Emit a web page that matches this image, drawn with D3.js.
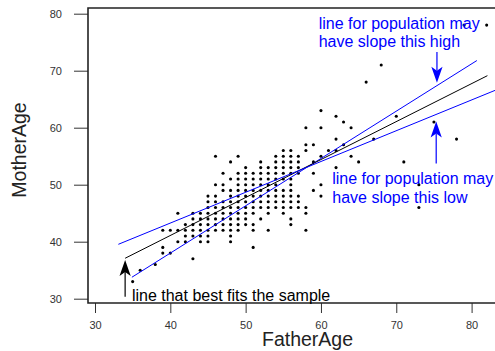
<!DOCTYPE html>
<html><head><meta charset="utf-8">
<script src="https://cdn.jsdelivr.net/npm/d3@7"></script>
<style>body{margin:0;background:#fff}svg{display:block;font-family:"Liberation Sans",Arial,sans-serif}</style>
</head><body><svg id="c" width="495" height="351"></svg>
<script>
// ---- data ----
const xTicks = [30, 40, 50, 60, 70, 80];
const yTicks = [30, 40, 50, 60, 70, 80];
const xTitle = "FatherAge";
const yTitle = "MotherAge";

// scatter rows: for each mother age, the father ages observed
const rowMother = [33,35,36,37,38,39,40,41,42,43,44,45,46,47,48,49,50,51,52,53,54,55,56,57,58,60,61,62,63,68,71,78];
const rowFathers = [
  [35],[36],[38],[43],[39,40],[39,51],
  [41,42,44,45,48],
  [42,43,44,45,48],
  [39,40,41,42,43,44,45,46,47,48,49,51,53,58],
  [42,43,44,45,46,47,48,49,50,51,56],
  [43,44,45,46,47,48,49,50,52,56],
  [41,43,44,45,46,47,48,49,50,51,53,55,58],
  [45,46,47,48,49,50,51,52,53,54,55,56,57,58,73],
  [45,46,47,48,49,50,51,52,53,54,55,56,57],
  [45,46,48,49,50,51,52,53,54,55,56,57,60],
  [47,48,49,50,51,52,53,54,55,56,59],
  [46,47,49,50,51,52,53,54,56,60,73],
  [48,49,50,51,52,53,54,55,56],
  [47,49,50,51,52,53,54,55,56,57,59],
  [50,52,53,54,55,56,57,62],
  [48,52,54,55,56,57,59,65,71],
  [46,49,54,55,56,57,60,64],
  [55,56,58,61,62],
  [58,59,63],
  [62,67,78],
  [58,60,64],
  [63,75],
  [62,70],
  [60],
  [66],
  [68],
  [79,82]
];
const fatherAge = [], motherAge = [];
rowMother.forEach((m, i) => rowFathers[i].forEach(f => { fatherAge.push(f); motherAge.push(m); }));

// fitted lines
const lineKeys = ["high", "best", "low"];
const lineIntercept = [4.80, 14.45, 21.67];
const lineSlope = [0.830, 0.666, 0.540];
const lineFrom = [34.9, 34.0, 33.1];
const lineTo = [80.7, 82.1, 85.0];

// annotations (data coordinates)
const noteLines = [
  ["line for population may", "have slope this high"],
  ["line for population may", "have slope this low"],
  ["line that best fits the sample"]
];
const noteX = [59.7, 61.5, 34.9];
const noteY = [[77.4, 74.15], [50.2, 46.85], [29.65]];
const arrowX = [75.4, 75.3, 34.0];
const arrowFrom = [73.3, 53.7, 30.35];
const arrowTip = [67.9, 61.1, 36.8];

// ---- styles ----
const colorOf = {high: "#0000ff", best: "#000000", low: "#0000ff"};
const noteColor = ["#0000ff", "#0000ff", "#000000"];

// ---- drawing ----
const svg = d3.select("#c");
const x = d3.scaleLinear().domain([30, 80]).range([95, 471.6]);
const y = d3.scaleLinear().domain([30, 80]).range([298.7, 13.7]);
const box = {l: 88, t: 8, b: 303, r: 520};

// axes
const gx = svg.append("g").attr("transform", `translate(0,${box.b})`)
  .call(d3.axisBottom(x).tickValues(xTicks).tickSize(10).tickPadding(8.5).tickFormat(d3.format("d")));
const gy = svg.append("g").attr("transform", `translate(${box.l},0)`)
  .call(d3.axisLeft(y).tickValues(yTicks).tickSize(14).tickPadding(12).tickFormat(d3.format("d")));
[gx, gy].forEach(g => {
  g.select(".domain").remove();
  g.selectAll(".tick line").attr("stroke", "#333").attr("stroke-width", 1);
  g.selectAll(".tick text").attr("fill", "#333").style("font-size", "11px")
    .style("font-family", '"Liberation Sans",Arial,sans-serif');
});

// box
svg.append("path")
  .attr("d", `M${box.r},${box.t}H${box.l}V${box.b}H${box.r}`)
  .attr("fill", "none").attr("stroke", "#222").attr("stroke-width", 1.6);

// points
svg.append("g").selectAll("circle").data(fatherAge.map((f, i) => [f, motherAge[i]]))
  .join("circle")
  .attr("cx", d => x(d[0])).attr("cy", d => y(d[1])).attr("r", 1.55).attr("fill", "#000");

// lines
svg.append("g").selectAll("line").data(lineKeys.map((k, i) => ({k, i})))
  .join("line")
  .attr("x1", d => x(lineFrom[d.i])).attr("y1", d => y(lineIntercept[d.i] + lineSlope[d.i] * lineFrom[d.i]))
  .attr("x2", d => x(lineTo[d.i])).attr("y2", d => y(lineIntercept[d.i] + lineSlope[d.i] * lineTo[d.i]))
  .attr("stroke", d => colorOf[d.k]).attr("stroke-width", 1);

// annotation text
noteLines.forEach((lines, i) => {
  lines.forEach((t, j) => {
    svg.append("text").attr("x", x(noteX[i])).attr("y", y(noteY[i][j]))
      .attr("fill", noteColor[i]).style("font-size", "16px").text(t);
  });
});

// arrows
arrowX.forEach((ax, i) => {
  const px = x(ax), p0 = y(arrowFrom[i]), pt = y(arrowTip[i]);
  const dir = pt < p0 ? 1 : -1; // 1: arrow points up
  const L = 16, W = 5.6, N = 12;
  svg.append("line").attr("x1", px).attr("x2", px).attr("y1", p0).attr("y2", pt + dir * N)
    .attr("stroke", noteColor[i]).attr("stroke-width", 1.2);
  svg.append("path")
    .attr("d", `M${px},${pt}L${px - W},${pt + dir * L}L${px},${pt + dir * N}L${px + W},${pt + dir * L}Z`)
    .attr("fill", noteColor[i]);
});

// titles
svg.append("text").attr("x", 307.5).attr("y", 345.5).attr("text-anchor", "middle")
  .attr("fill", "#222").style("font-size", "19.5px").text(xTitle);
svg.append("text").attr("transform", "translate(26,150) rotate(-90)").attr("text-anchor", "middle")
  .attr("fill", "#222").style("font-size", "19.5px").text(yTitle);
</script></body></html>
